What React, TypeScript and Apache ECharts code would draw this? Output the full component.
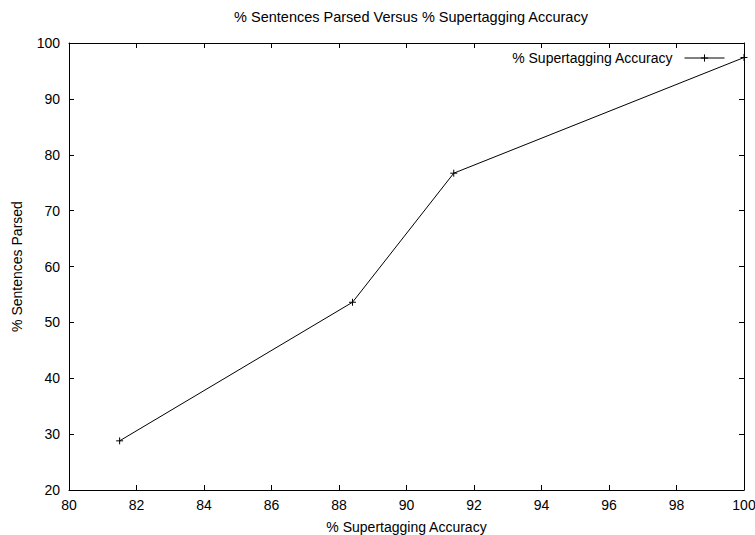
import React, { useEffect, useRef } from "react";
import * as echarts from "echarts";

const accuracy = [81.5, 88.4, 91.4, 100];
const parsed = [28.8, 53.6, 76.7, 97.4];
const titleText = "% Sentences Parsed Versus % Supertagging Accuracy";
const xName = "% Supertagging Accuracy";
const yName = "% Sentences Parsed";
const seriesName = "% Supertagging Accuracy";

const FONT = "'Liberation Sans', Arial, Helvetica, sans-serif";
const FS = 14;

export default function App() {
  const ref = useRef<HTMLDivElement>(null);
  useEffect(() => {
    if (!ref.current) return;
    const chart = echarts.init(ref.current, undefined, { renderer: "svg" });
    const crossSymbol = "path://M0,5L10,5M5,0L5,10";
    const axisCommon = {
      axisLine: { show: true, lineStyle: { color: "#000", width: 1 } },
      axisTick: { show: true, inside: true, length: 5, lineStyle: { color: "#000", width: 1 } },
      splitLine: { show: false },
    };
    chart.setOption({
      animation: false,
      backgroundColor: "#fff",
      textStyle: { fontFamily: FONT, color: "#000" },
      title: {
        text: titleText,
        left: 406,
        textAlign: "center",
        top: 4,
        textStyle: { fontFamily: FONT, fontSize: 14.5, fontWeight: "normal", color: "#000" },
      },
      grid: {
        left: 69,
        right: 11,
        top: 43,
        bottom: 45,
        containLabel: false,
        outerBoundsMode: "none",
      },
      legend: {
        right: 30,
        top: 51,
        padding: 0,
        align: "right",
        itemWidth: 40,
        itemHeight: 9,
        lineStyle: { width: 1, color: "#000" },
        itemStyle: { borderWidth: 1, borderColor: "#000", color: "transparent" },
        textStyle: { fontFamily: FONT, fontSize: FS, color: "#000", padding: [0, 7, 0, 0] },
        data: [{ name: seriesName }],
      },
      xAxis: [
        {
          type: "value",
          min: 80,
          max: 100,
          interval: 2,
          position: "bottom",
          name: xName,
          nameLocation: "middle",
          nameGap: 30,
          nameTextStyle: { fontFamily: FONT, fontSize: FS, color: "#000" },
          axisLabel: { fontFamily: FONT, fontSize: FS, color: "#000", margin: 8 },
          ...axisCommon,
        },
        {
          type: "value",
          min: 80,
          max: 100,
          interval: 2,
          position: "top",
          axisLabel: { show: false },
          ...axisCommon,
        },
      ],
      yAxis: [
        {
          type: "value",
          min: 20,
          max: 100,
          interval: 10,
          position: "left",
          name: yName,
          nameLocation: "middle",
          nameGap: 45,
          nameTextStyle: { fontFamily: FONT, fontSize: FS, color: "#000" },
          axisLabel: { fontFamily: FONT, fontSize: FS, color: "#000", margin: 9 },
          ...axisCommon,
        },
        {
          type: "value",
          min: 20,
          max: 100,
          interval: 10,
          position: "right",
          axisLabel: { show: false },
          ...axisCommon,
        },
      ],
      series: [
        {
          name: seriesName,
          type: "line",
          data: accuracy.map((x, i) => [x, parsed[i]]),
          symbol: crossSymbol,
          symbolSize: 7,
          showSymbol: true,
          clip: false,
          lineStyle: { color: "#000", width: 1 },
          itemStyle: { color: "transparent", borderColor: "#000", borderWidth: 1 },
          emphasis: { disabled: true },
        },
      ],
    });
    return () => chart.dispose();
  }, []);
  return (
    <div
      ref={ref}
      style={{ position: "fixed", left: 0, top: 0, width: 755, height: 535, background: "#fff" }}
    />
  );
}
